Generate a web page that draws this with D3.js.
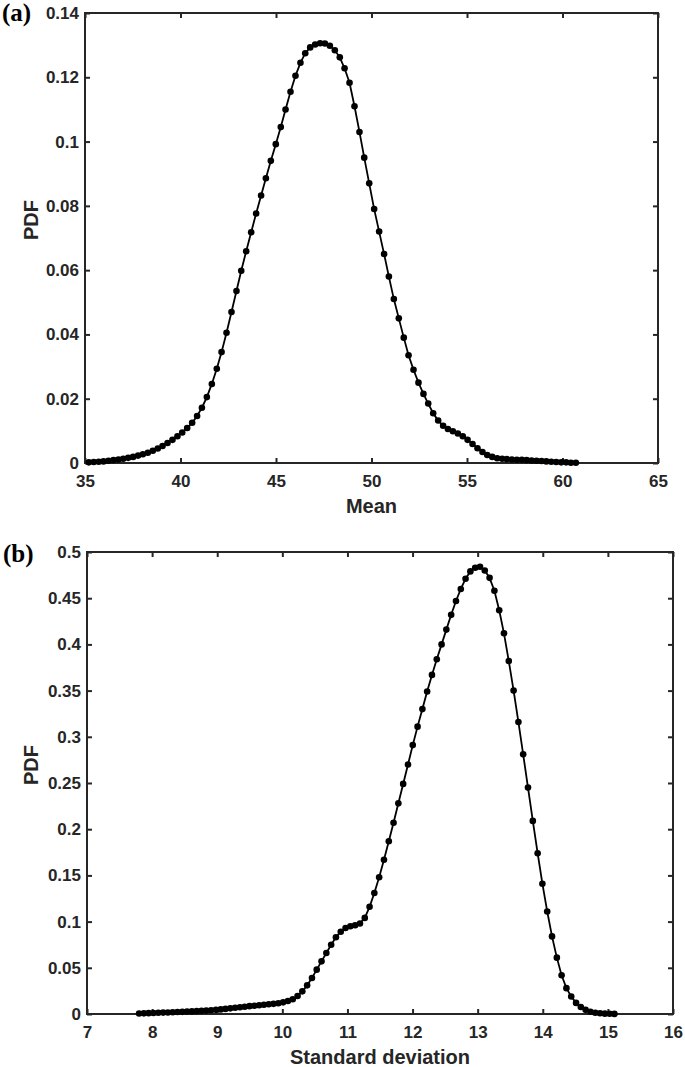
<!DOCTYPE html>
<html>
<head>
<meta charset="utf-8">
<script src="https://cdn.jsdelivr.net/npm/d3@7"></script>
<style>
  body { margin: 0; background: #fff; }
  svg text { font-family: "Liberation Sans", Arial, sans-serif; font-weight: bold; fill: #262626; }
</style>
</head>
<body>
<div id="chart"></div>
<script>
const width = 685;
const height = 1067;

// --- panel (a): PDF of the mean ---
const meanX = [
  35.20, 35.46, 35.72, 35.97, 36.23, 36.49, 36.75, 37.00, 37.26, 37.52,
  37.78, 38.03, 38.29, 38.55, 38.81, 39.06, 39.32, 39.58, 39.84, 40.09,
  40.35, 40.61, 40.87, 41.12, 41.38, 41.64, 41.90, 42.15, 42.41, 42.67,
  42.93, 43.18, 43.44, 43.70, 43.96, 44.22, 44.47, 44.73, 44.99, 45.25,
  45.50, 45.76, 46.02, 46.28, 46.53, 46.79, 47.05, 47.31, 47.56, 47.82,
  48.08, 48.34, 48.59, 48.85, 49.11, 49.37, 49.62, 49.88, 50.14, 50.40,
  50.66, 50.91, 51.17, 51.43, 51.69, 51.94, 52.20, 52.46, 52.72, 52.97,
  53.23, 53.49, 53.75, 54.00, 54.26, 54.52, 54.78, 55.03, 55.29, 55.55,
  55.81, 56.06, 56.32, 56.58, 56.84, 57.09, 57.35, 57.61, 57.87, 58.12,
  58.38, 58.64, 58.90, 59.15, 59.41, 59.67, 59.93, 60.19, 60.44, 60.70
];
const meanPdf = [
  0.0002, 0.0003, 0.0004, 0.0005, 0.0007, 0.0009, 0.0011, 0.0013, 0.0016, 0.0019,
  0.0023, 0.0027, 0.0032, 0.0038, 0.0045, 0.0053, 0.0062, 0.0072, 0.0083, 0.0095,
  0.0109, 0.0125, 0.0146, 0.0172, 0.0205, 0.0246, 0.0293, 0.0345, 0.0405, 0.0470,
  0.0535, 0.0598, 0.0659, 0.0718, 0.0776, 0.0832, 0.0886, 0.0940, 0.0992, 0.1045,
  0.1100, 0.1155, 0.1205, 0.1245, 0.1275, 0.1293, 0.1302, 0.1306, 0.1305, 0.1298,
  0.1284, 0.1262, 0.1228, 0.1183, 0.1110, 0.1030, 0.0950, 0.0870, 0.0790, 0.0720,
  0.0650, 0.0580, 0.0510, 0.0450, 0.0390, 0.0335, 0.0290, 0.0250, 0.0215, 0.0185,
  0.0155, 0.0132, 0.0116, 0.0106, 0.0099, 0.0092, 0.0083, 0.0072, 0.0059, 0.0046,
  0.0034, 0.0025, 0.0019, 0.0015, 0.0013, 0.0012, 0.0011, 0.0010, 0.0010, 0.0009,
  0.0008, 0.0007, 0.0006, 0.0005, 0.0004, 0.0003, 0.0002, 0.0002, 0.0001, 0.0001
];
const meanTicksX = [35, 40, 45, 50, 55, 60, 65];
const meanTicksY = [0, 0.02, 0.04, 0.06, 0.08, 0.1, 0.12, 0.14];

// --- panel (b): PDF of the standard deviation ---
const sdX = [
  7.800, 7.874, 7.947, 8.021, 8.095, 8.169, 8.242, 8.316, 8.390, 8.464,
  8.537, 8.611, 8.685, 8.759, 8.832, 8.906, 8.980, 9.054, 9.127, 9.201,
  9.275, 9.349, 9.422, 9.496, 9.570, 9.644, 9.717, 9.791, 9.865, 9.939,
  10.012, 10.086, 10.160, 10.234, 10.307, 10.381, 10.455, 10.528, 10.602, 10.676,
  10.750, 10.823, 10.897, 10.971, 11.045, 11.118, 11.192, 11.266, 11.340, 11.413,
  11.487, 11.561, 11.635, 11.708, 11.782, 11.856, 11.930, 12.003, 12.077, 12.151,
  12.224, 12.298, 12.372, 12.446, 12.519, 12.593, 12.667, 12.741, 12.814, 12.888,
  12.962, 13.036, 13.109, 13.183, 13.257, 13.331, 13.404, 13.478, 13.552, 13.626,
  13.699, 13.773, 13.847, 13.921, 13.994, 14.068, 14.142, 14.216, 14.289, 14.363,
  14.437, 14.511, 14.584, 14.658, 14.732, 14.806, 14.879, 14.953, 15.027, 15.100
];
const sdPdf = [
  0.0005, 0.0007, 0.0009, 0.0011, 0.0013, 0.0015, 0.0017, 0.0019, 0.0021, 0.0023,
  0.0026, 0.0028, 0.0031, 0.0034, 0.0037, 0.0041, 0.0045, 0.0050, 0.0055, 0.0061,
  0.0067, 0.0073, 0.0079, 0.0085, 0.0090, 0.0095, 0.0100, 0.0105, 0.0110, 0.0117,
  0.0126, 0.0140, 0.0160, 0.0195, 0.0245, 0.031, 0.039, 0.048, 0.057, 0.066,
  0.075, 0.083, 0.089, 0.093, 0.095, 0.096, 0.098, 0.104, 0.116, 0.131,
  0.148, 0.167, 0.187, 0.207, 0.228, 0.249, 0.270, 0.291, 0.311, 0.330,
  0.349, 0.367, 0.384, 0.400, 0.416, 0.432, 0.447, 0.460, 0.471, 0.479,
  0.483, 0.484, 0.480, 0.472, 0.458, 0.437, 0.412, 0.382, 0.350, 0.316,
  0.281, 0.245, 0.209, 0.174, 0.141, 0.111, 0.084, 0.061, 0.042, 0.028,
  0.019, 0.012, 0.0075, 0.0045, 0.0025, 0.0014, 0.0008, 0.0004, 0.0002, 0.0001
];
const sdTicksX = [7, 8, 9, 10, 11, 12, 13, 14, 15, 16];
const sdTicksY = [0, 0.05, 0.1, 0.15, 0.2, 0.25, 0.3, 0.35, 0.4, 0.45, 0.5];

const axisColor = "#262626";
const tickLen = 5;

const svg = d3.select("#chart")
    .append("svg")
    .attr("width", width)
    .attr("height", height);

function fmt(d) {
    return d === 0 ? "0" : String(+d.toFixed(3));
}

function drawPanel(p) {
    const x = d3.scaleLinear().domain(p.xDomain).range([p.left, p.right]);
    const y = d3.scaleLinear().domain(p.yDomain).range([p.bottom, p.top]);
    const g = svg.append("g");

    // bottom axis, ticks pointing inward
    const bottom = g.append("g")
        .attr("transform", `translate(0,${p.bottom})`)
        .call(d3.axisBottom(x).tickValues(p.xTicks).tickFormat(fmt)
            .tickSizeInner(-tickLen).tickSizeOuter(0).tickPadding(12));
    // top axis, ticks only
    const top = g.append("g")
        .attr("transform", `translate(0,${p.top})`)
        .call(d3.axisTop(x).tickValues(p.xTicks).tickFormat("")
            .tickSizeInner(-tickLen).tickSizeOuter(0));
    // left axis
    const left = g.append("g")
        .attr("transform", `translate(${p.left},0)`)
        .call(d3.axisLeft(y).tickValues(p.yTicks).tickFormat(fmt)
            .tickSizeInner(-tickLen).tickSizeOuter(0).tickPadding(6));
    // right axis, ticks only
    const right = g.append("g")
        .attr("transform", `translate(${p.right},0)`)
        .call(d3.axisRight(y).tickValues(p.yTicks).tickFormat("")
            .tickSizeInner(-tickLen).tickSizeOuter(0));

    [bottom, top, left, right].forEach(a => {
        a.select(".domain").remove();
        a.selectAll(".tick line").attr("stroke", axisColor).attr("stroke-width", 2);
        a.selectAll(".tick text")
            .attr("fill", axisColor)
            .style("font-family", '"Liberation Sans", Arial, sans-serif')
            .style("font-weight", "bold")
            .style("font-size", "17px");
    });

    // box
    g.append("rect")
        .attr("x", p.left)
        .attr("y", p.top)
        .attr("width", p.right - p.left)
        .attr("height", p.bottom - p.top)
        .attr("fill", "none")
        .attr("stroke", axisColor)
        .attr("stroke-width", 2);

    const pts = p.xs.map((v, i) => [v, p.ys[i]]);

    g.append("path")
        .datum(pts)
        .attr("fill", "none")
        .attr("stroke", "#000")
        .attr("stroke-width", 1.8)
        .attr("d", d3.line().x(d => x(d[0])).y(d => y(d[1])));

    g.selectAll("circle")
        .data(pts)
        .enter()
        .append("circle")
        .attr("cx", d => x(d[0]))
        .attr("cy", d => y(d[1]))
        .attr("r", 3.3)
        .attr("fill", "#000");

    // axis titles
    g.append("text")
        .attr("x", (p.left + p.right) / 2)
        .attr("y", p.bottom + 50)
        .attr("text-anchor", "middle")
        .style("font-size", "20px")
        .text(p.xLabel);

    g.append("text")
        .attr("transform", `translate(38,${(p.top + p.bottom) / 2 - 18}) rotate(-90)`)
        .attr("text-anchor", "middle")
        .style("font-size", "20px")
        .text("PDF");

    // panel letter
    g.append("text")
        .attr("x", p.letterX)
        .attr("y", p.letterY)
        .style("font-family", '"Liberation Serif", "Times New Roman", serif')
        .style("font-size", "25px")
        .style("fill", "#000")
        .text(p.letter);
}

drawPanel({
    xs: meanX, ys: meanPdf,
    xDomain: [35, 65], yDomain: [0, 0.14],
    xTicks: meanTicksX, yTicks: meanTicksY,
    left: 85, right: 658, top: 13, bottom: 463,
    xLabel: "Mean", letter: "(a)", letterX: 2, letterY: 21
});

drawPanel({
    xs: sdX, ys: sdPdf,
    xDomain: [7, 16], yDomain: [0, 0.5],
    xTicks: sdTicksX, yTicks: sdTicksY,
    left: 87, right: 673, top: 552, bottom: 1014,
    xLabel: "Standard deviation", letter: "(b)", letterX: 3, letterY: 562
});
</script>
</body>
</html>
